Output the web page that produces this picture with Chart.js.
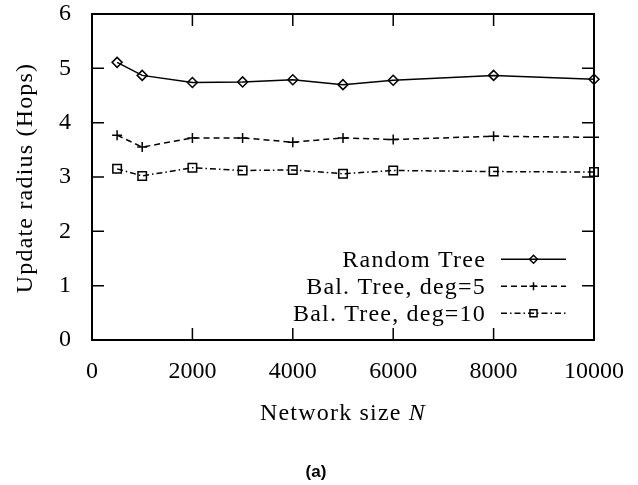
<!DOCTYPE html>
<html>
<head>
<meta charset="utf-8">
<script src="https://cdn.jsdelivr.net/npm/chart.js@4"></script>
<style>
  html, body { margin: 0; padding: 0; background: #fff; }
  #wrap { width: 638px; height: 485px; position: relative; }
</style>
</head>
<body>
<div id="wrap"><canvas id="radiusChart" width="638" height="485"></canvas></div>
<script>
const networkSizes = [500, 1000, 2000, 3000, 4000, 5000, 6000, 8000, 10000];
const randomTree = [5.11, 4.87, 4.74, 4.75, 4.79, 4.70, 4.78, 4.87, 4.80];
const balTree5 = [3.77, 3.55, 3.72, 3.72, 3.64, 3.72, 3.69, 3.75, 3.73];
const balTree10 = [3.15, 3.02, 3.17, 3.12, 3.13, 3.06, 3.12, 3.10, 3.09];
const xTickValues = [0, 2000, 4000, 6000, 8000, 10000];
const yTickValues = [0, 1, 2, 3, 4, 5, 6];

const serif = "'Liberation Serif', 'DejaVu Serif', serif";

function toPoints(ys) {
  return networkSizes.map((x, i) => ({x: x, y: ys[i]}));
}

const series = [
  {label: "Random Tree", data: toPoints(randomTree), dash: [], pointStyle: "rectRot", radius: 5},
  {label: "Bal. Tree, deg=5", data: toPoints(balTree5), dash: [6, 4], pointStyle: "cross", radius: 5},
  {label: "Bal. Tree, deg=10", data: toPoints(balTree10), dash: [6, 3, 1.5, 3], pointStyle: "rect", radius: 6}
];

// gnuplot style frame: box with inward ticks on all four sides, plus legend and titles
const framePlugin = {
  id: "frame",
  afterDatasetsDraw(chart) {
    const ctx = chart.ctx;
    const a = chart.chartArea;
    const xs = chart.scales.x, ys = chart.scales.y;
    const len = 12;
    ctx.save();
    ctx.strokeStyle = "#000";
    ctx.lineWidth = 1.5;
    ctx.setLineDash([]);
    ctx.beginPath();
    xTickValues.forEach(v => {
      const px = xs.getPixelForValue(v);
      ctx.moveTo(px, a.bottom); ctx.lineTo(px, a.bottom - len);
      ctx.moveTo(px, a.top); ctx.lineTo(px, a.top + len);
    });
    yTickValues.forEach(v => {
      const py = ys.getPixelForValue(v);
      ctx.moveTo(a.left, py); ctx.lineTo(a.left + len, py);
      ctx.moveTo(a.right, py); ctx.lineTo(a.right - len, py);
    });
    ctx.stroke();
    ctx.lineWidth = 2;
    ctx.strokeRect(a.left, a.top, a.right - a.left, a.bottom - a.top);

    // legend, right aligned inside the plot
    ctx.font = "24px " + serif;
    ctx.letterSpacing = "1.2px";
    ctx.fillStyle = "#000";
    ctx.textAlign = "right";
    ctx.textBaseline = "alphabetic";
    const textRight = a.right - 108;
    const lineL = a.right - 93, lineR = a.right - 28;
    const rowY0 = a.bottom - 80.7, rowGap = 27;
    chart.data.datasets.forEach((ds, i) => {
      const y = rowY0 + i * rowGap;
      ctx.fillStyle = "#000";
      ctx.fillText(ds.label, textRight, y + 7.5);
      ctx.save();
      ctx.lineWidth = ds.borderWidth;
      ctx.setLineDash(ds.borderDash);
      ctx.beginPath();
      ctx.moveTo(lineL, y); ctx.lineTo(lineR, y);
      ctx.stroke();
      ctx.restore();
      ctx.save();
      ctx.lineWidth = 1.5;
      ctx.strokeStyle = "#000";
      ctx.fillStyle = "rgba(0,0,0,0)";
      Chart.helpers.drawPoint(ctx, {pointStyle: ds.pointStyle, rotation: 0, borderWidth: 1.5, radius: ds.pointRadius - 1}, (lineL + lineR) / 2, y);
      ctx.restore();
    });

    // x axis title with italic N
    ctx.fillStyle = "#000";
    const xt = "Network size ";
    ctx.textAlign = "left";
    ctx.font = "24px " + serif;
    const w1 = ctx.measureText(xt).width;
    ctx.font = "italic 24px " + serif;
    const w2 = ctx.measureText("N").width;
    const cx = (a.left + a.right) / 2;
    const startX = cx - (w1 + w2) / 2;
    ctx.font = "24px " + serif;
    ctx.fillText(xt, startX, 420);
    ctx.font = "italic 24px " + serif;
    ctx.fillText("N", startX + w1, 420);

    // y axis title
    ctx.save();
    ctx.translate(32, (a.top + a.bottom) / 2 + 1);
    ctx.rotate(-Math.PI / 2);
    ctx.font = "24px " + serif;
    ctx.textAlign = "center";
    ctx.fillText("Update radius (Hops)", 0, 0);
    ctx.restore();

    // caption
    ctx.letterSpacing = "0px";
    ctx.font = "bold 17px 'Liberation Sans', sans-serif";
    ctx.textAlign = "center";
    ctx.fillText("(a)", 316, 477);
    ctx.restore();
  }
};

new Chart(document.getElementById("radiusChart").getContext("2d"), {
  type: "line",
  data: {
    datasets: series.map(s => ({
      label: s.label,
      data: s.data,
      borderColor: "#000",
      backgroundColor: "#fff",
      borderWidth: 1.5,
      borderDash: s.dash,
      pointStyle: s.pointStyle,
      pointRadius: s.radius,
      pointBorderWidth: 1.5,
      pointBorderColor: "#000",
      pointBackgroundColor: "rgba(0,0,0,0)",
      tension: 0,
      clip: false
    }))
  },
  options: {
    responsive: false,
    animation: false,
    devicePixelRatio: 1,
    layout: {padding: {top: 14, right: 44, bottom: 0, left: 0}},
    plugins: {legend: {display: false}, tooltip: {enabled: false}},
    scales: {
      x: {
        type: "linear",
        min: 0, max: 10000,
        afterBuildTicks: s => { s.ticks = xTickValues.map(v => ({value: v})); },
        afterFit: s => { s.height = 145; s.paddingLeft = 0; s.paddingRight = 0; },
        grid: {display: false},
        border: {display: false},
        ticks: {color: "#000", font: {family: serif, size: 24}, padding: 9, maxRotation: 0, callback: v => String(v)}
      },
      y: {
        type: "linear",
        min: 0, max: 6,
        afterBuildTicks: s => { s.ticks = yTickValues.map(v => ({value: v})); },
        afterFit: s => { s.width = 92; s.paddingTop = 0; s.paddingBottom = 0; },
        grid: {display: false},
        border: {display: false},
        ticks: {color: "#000", font: {family: serif, size: 24}, padding: 13, callback: v => String(v)}
      }
    }
  },
  plugins: [framePlugin]
});
</script>
</body>
</html>
